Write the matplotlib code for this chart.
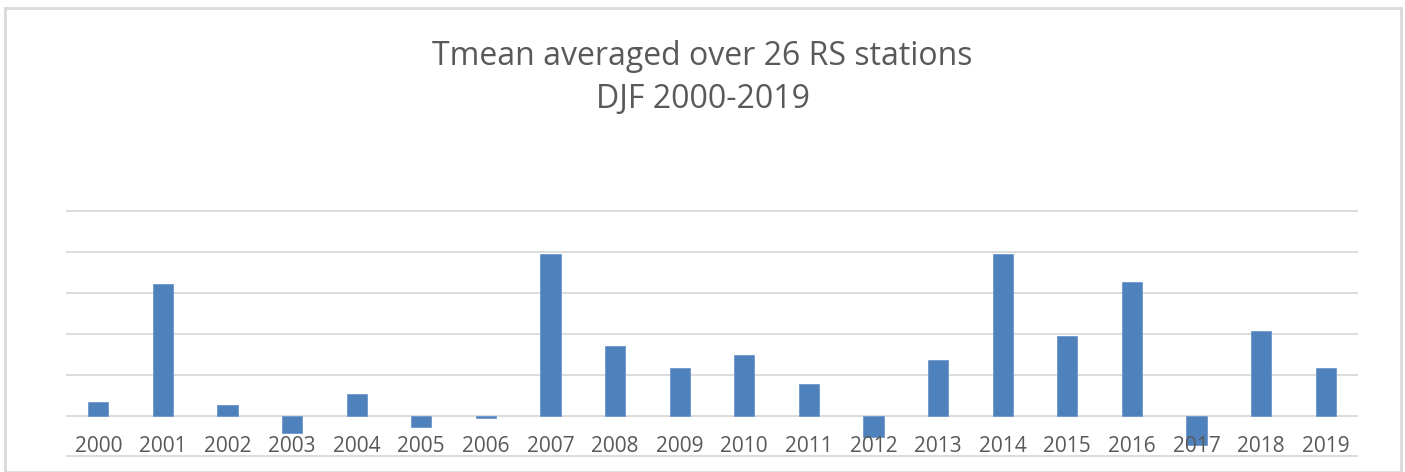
import matplotlib.pyplot as plt
from matplotlib.patches import Rectangle
import numpy as np

# DJF mean temperature anomaly per year (gridline units)
years = [str(y) for y in range(2000, 2020)]
tmean = [0.34, 3.22, 0.26, -0.43, 0.53, -0.27, -0.05, 3.95, 1.69, 1.16,
         1.49, 0.76, -0.52, 1.36, 3.95, 1.94, 3.25, -0.72, 2.06, 1.15]
grid_levels = [-1, 0, 1, 2, 3, 4, 5]
title = 'Tmean averaged over 26 RS stations\nDJF 2000-2019'

plt.rcParams['font.family'] = ['Open Sans', 'DejaVu Sans']

W, H = 1405, 472
fig = plt.figure(figsize=(W / 100, H / 100), dpi=100)

# chart area border
fig.patches.append(Rectangle((5 / W, 0), 1396 / W, (H - 8) / H,
                             transform=fig.transFigure, fill=False,
                             edgecolor='#d9d9d9', linewidth=2))

ax = fig.add_axes([66 / W, (H - 457.3) / H, 1292 / W, 247.3 / H])
x = np.arange(len(years))
ax.bar(x, tmean, width=0.31, color='#4f81bd', edgecolor='#6f97cc',
       linewidth=0.6, zorder=3)

for g in grid_levels:
    ax.axhline(g, color='#d9d9d9', linewidth=1.3, zorder=1)

for xi, yr in zip(x, years):
    ax.text(xi, -0.75, yr, ha='center', va='center', fontsize=15,
            color='#595959', zorder=4)

ax.set_xlim(-0.5, len(years) - 0.5)
ax.set_ylim(-1.02, 5.02)
ax.set_xticks([])
ax.set_yticks([])
for s in ax.spines.values():
    s.set_visible(False)

fig.text(0.5, (H - 78) / H, title, ha='center', va='center', fontsize=23,
         color='#595959', linespacing=1.38)

plt.savefig('out.png', dpi=100)
